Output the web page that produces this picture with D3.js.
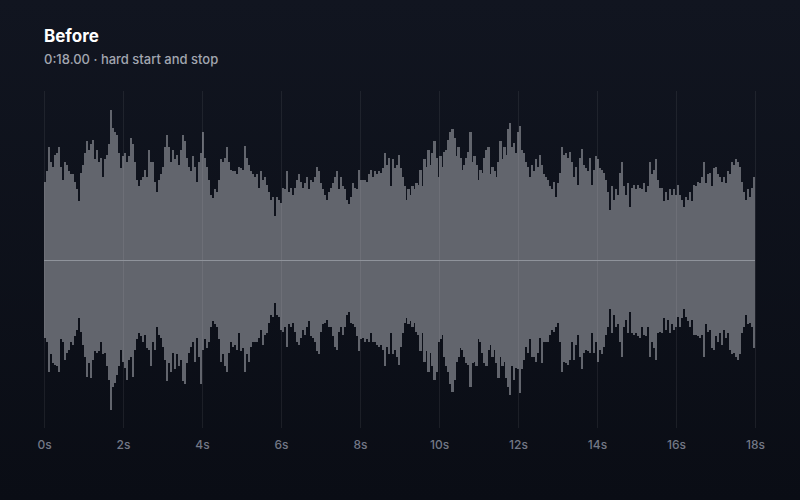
<!DOCTYPE html>
<html><head><meta charset="utf-8">
<script src="https://cdn.jsdelivr.net/npm/d3@7"></script>
<style>html,body{margin:0;padding:0;background:#0d1019;} svg{display:block;}</style>
</head><body><svg id="c" width="800" height="500"></svg>
<script>
const title = "Before";
const subtitle = "0:18.00 · hard start and stop";
const duration = 18;
const tickSeconds = [0, 2, 4, 6, 8, 10, 12, 14, 16, 18];

// positive peak per bin (0..18 s)
const peakPos = [
0.52,0.59,0.75,0.65,0.62,0.70,0.71,0.75,0.62,0.53,
0.65,0.63,0.59,0.57,0.57,0.52,0.47,0.39,0.58,0.63,
0.71,0.79,0.73,0.77,0.80,0.67,0.73,0.65,0.68,0.55,
0.67,0.70,0.77,1.00,0.88,0.85,0.83,0.71,0.61,0.69,
0.71,0.65,0.69,0.81,0.77,0.65,0.53,0.49,0.53,0.55,
0.60,0.55,0.73,0.65,0.65,0.52,0.45,0.53,0.57,0.62,
0.75,0.83,0.75,0.65,0.73,0.67,0.70,0.63,0.73,0.83,
0.79,0.68,0.62,0.59,0.69,0.62,0.52,0.65,0.71,0.85,
0.68,0.62,0.53,0.43,0.41,0.47,0.45,0.53,0.67,0.65,
0.68,0.75,0.65,0.60,0.59,0.59,0.57,0.62,0.61,0.60,
0.76,0.68,0.63,0.59,0.57,0.55,0.57,0.48,0.59,0.53,
0.55,0.50,0.45,0.40,0.42,0.29,0.42,0.40,
0.38,0.48,0.47,0.59,0.45,0.48,0.43,0.48,0.53,0.57,
0.52,0.48,0.51,0.55,0.47,0.53,0.52,0.55,0.62,0.59,
0.51,0.47,0.43,0.40,0.45,0.48,0.51,0.55,0.59,0.47,
0.55,0.49,0.47,0.40,0.37,0.42,0.51,0.48,0.47,0.60,
0.53,0.53,0.53,0.52,0.57,0.60,0.55,0.59,0.57,0.59,
0.58,0.61,0.71,0.63,0.68,0.49,0.67,0.61,0.63,0.70,
0.61,0.55,0.49,0.40,0.47,0.43,0.49,0.47,0.51,0.50,
0.60,0.49,0.67,0.62,0.73,0.63,0.71,0.79,0.68,0.55,
0.69,0.62,0.72,0.73,0.80,0.85,0.87,0.81,0.69,0.75,
0.68,0.60,0.63,0.68,0.72,0.85,0.65,0.69,0.63,0.53,
0.60,0.58,0.68,0.73,0.75,0.57,0.62,0.59,0.55,0.65,
0.79,0.67,0.75,0.70,0.87,0.91,0.75,0.78,
0.71,0.85,0.89,0.73,0.71,0.65,0.62,0.55,0.63,0.59,
0.67,0.62,0.70,0.63,0.57,0.55,0.53,0.49,0.47,0.52,
0.42,0.51,0.58,0.75,0.70,0.71,0.68,0.72,0.65,0.55,
0.62,0.50,0.68,0.74,0.63,0.61,0.59,0.68,0.50,0.60,
0.69,0.67,0.61,0.60,0.58,0.53,0.45,0.33,0.49,0.40,
0.47,0.43,0.58,0.65,0.49,0.43,0.51,0.35,0.48,0.50,
0.47,0.50,0.48,0.47,0.51,0.45,0.49,0.65,0.57,0.60,
0.67,0.53,0.48,0.48,0.39,0.45,0.40,0.47,0.43,0.47,
0.43,0.50,0.43,0.40,0.35,0.42,0.40,0.45,0.39,0.50,
0.49,0.52,0.51,0.55,0.65,0.51,0.57,0.58,0.49,0.61,
0.62,0.57,0.55,0.52,0.55,0.51,0.59,0.57,0.65,0.63,
0.67,0.65,0.62,0.52,0.45,0.40,0.47,0.42,0.48,0.55
];

// negative peak magnitude per bin (0..18 s)
const peakNeg = [
0.52,0.55,0.75,0.63,0.69,0.70,0.71,0.75,0.53,0.55,
0.67,0.62,0.60,0.55,0.57,0.51,0.47,0.39,0.48,0.57,
0.65,0.78,0.69,0.79,0.67,0.61,0.62,0.61,0.55,0.63,
0.62,0.71,0.80,1.00,0.85,0.82,0.77,0.71,0.60,0.68,
0.72,0.80,0.67,0.65,0.78,0.60,0.53,0.49,0.51,0.55,
0.50,0.59,0.60,0.71,0.55,0.60,0.45,0.50,0.52,0.58,
0.67,0.81,0.69,0.75,0.62,0.73,0.63,0.71,0.67,0.81,
0.83,0.69,0.62,0.58,0.55,0.68,0.52,0.65,0.83,0.60,
0.53,0.59,0.55,0.45,0.41,0.43,0.45,0.53,0.68,0.63,
0.71,0.75,0.62,0.55,0.58,0.57,0.60,0.49,0.61,0.59,
0.75,0.63,0.68,0.58,0.55,0.55,0.55,0.52,0.47,0.57,
0.50,0.49,0.42,0.37,0.38,0.29,0.37,0.38,
0.47,0.48,0.45,0.58,0.43,0.45,0.42,0.48,0.55,0.57,
0.52,0.47,0.50,0.45,0.41,0.51,0.52,0.55,0.61,0.63,
0.48,0.43,0.42,0.40,0.45,0.45,0.51,0.58,0.60,0.48,
0.45,0.50,0.45,0.37,0.35,0.42,0.43,0.45,0.51,0.61,
0.53,0.52,0.55,0.53,0.55,0.49,0.55,0.55,0.57,0.58,
0.57,0.60,0.71,0.58,0.63,0.49,0.63,0.60,0.65,0.70,
0.58,0.49,0.42,0.39,0.43,0.41,0.45,0.42,0.48,0.50,
0.61,0.49,0.68,0.61,0.75,0.62,0.71,0.80,0.75,0.55,
0.53,0.50,0.65,0.71,0.75,0.83,0.88,0.80,0.68,0.65,
0.59,0.60,0.65,0.69,0.70,0.85,0.69,0.68,0.71,0.53,
0.55,0.62,0.69,0.71,0.60,0.57,0.65,0.60,0.69,0.79,
0.65,0.71,0.68,0.79,0.85,0.90,0.71,0.80,
0.72,0.73,0.89,0.73,0.67,0.58,0.62,0.53,0.65,0.65,
0.68,0.62,0.52,0.69,0.55,0.55,0.55,0.50,0.47,0.48,
0.45,0.42,0.55,0.75,0.68,0.69,0.70,0.67,0.55,0.67,
0.57,0.50,0.65,0.73,0.62,0.60,0.61,0.62,0.49,0.62,
0.55,0.68,0.60,0.63,0.58,0.50,0.45,0.33,0.49,0.37,
0.45,0.43,0.55,0.65,0.45,0.40,0.49,0.35,0.49,0.50,
0.49,0.51,0.52,0.45,0.50,0.51,0.45,0.65,0.55,0.59,
0.67,0.49,0.48,0.49,0.39,0.47,0.40,0.49,0.43,0.47,
0.45,0.38,0.45,0.39,0.33,0.38,0.41,0.45,0.40,0.50,
0.50,0.51,0.52,0.50,0.65,0.43,0.48,0.47,0.59,0.60,
0.51,0.55,0.49,0.57,0.47,0.52,0.49,0.60,0.63,0.62,
0.65,0.67,0.63,0.49,0.45,0.37,0.43,0.42,0.45,0.59
];

(function () {
const svg = d3.select("#c");
const W = 800, H = 500;
const plotLeft = 44, plotRight = 755, plotTop = 91, plotBottom = 428;

const defs = svg.append("defs");
const g = defs.append("linearGradient").attr("id", "bg").attr("x1", 0).attr("y1", 0).attr("x2", 0).attr("y2", 1);
g.append("stop").attr("offset", "0%").attr("stop-color", "#111520");
g.append("stop").attr("offset", "100%").attr("stop-color", "#0a0d15");
svg.append("rect").attr("width", W).attr("height", H).attr("fill", "url(#bg)");

const x = d3.scaleLinear().domain([0, duration]).range([plotLeft, plotRight]);
// amplitude 1.0 sits 150px from centre
const yc = (plotTop + plotBottom) / 2;
const y = d3.scaleLinear()
  .domain([-(plotBottom - yc) / 150, (yc - plotTop) / 150])
  .range([plotBottom, plotTop]);

const N = peakPos.length;
const dt = duration / N;
const bw = x(dt) - x(0);

svg.append("g").attr("shape-rendering", "crispEdges")
  .selectAll("rect").data(d3.range(N)).join("rect")
  .attr("x", i => x(i * dt))
  .attr("width", bw + 0.15)
  .attr("y", i => y(peakPos[i]))
  .attr("height", i => y(-peakNeg[i]) - y(peakPos[i]))
  .attr("fill", "#62656d");

// grid
svg.append("g").selectAll("line").data(tickSeconds).join("line")
  .attr("x1", d => Math.round(x(d)) + 0.5).attr("x2", d => Math.round(x(d)) + 0.5)
  .attr("y1", plotTop).attr("y2", plotBottom)
  .attr("stroke", "rgba(255,255,255,0.07)").attr("stroke-width", 1);

// centre line
svg.append("line")
  .attr("x1", x(0)).attr("x2", x(duration))
  .attr("y1", Math.round(y(0)) + 0.5).attr("y2", Math.round(y(0)) + 0.5)
  .attr("stroke", "#8f939b").attr("stroke-width", 1);

// axis
const axis = d3.axisBottom(x).tickValues(tickSeconds).tickFormat(d => d + "s").tickSize(0).tickPadding(0);
const ax = svg.append("g").attr("transform", `translate(0, ${plotBottom + 10})`).call(axis);
ax.select(".domain").remove();
ax.selectAll("text")
  .attr("fill", "#737886")
  .attr("font-family", "Inter, 'Noto Sans', sans-serif")
  .attr("font-size", 12)
  .attr("font-weight", 500)
  .attr("dy", "0.9em");

svg.append("text").attr("x", 44).attr("y", 42).text(title)
  .attr("fill", "#ffffff").attr("font-family", "Inter, 'Noto Sans', sans-serif")
  .attr("font-size", 17).attr("font-weight", 700);
svg.append("text").attr("x", 44).attr("y", 64).text(subtitle)
  .attr("fill", "#a2a6b0").attr("font-family", "Inter, 'Noto Sans', sans-serif")
  .attr("font-size", 13).attr("font-weight", 500);
})();
</script></body></html>
